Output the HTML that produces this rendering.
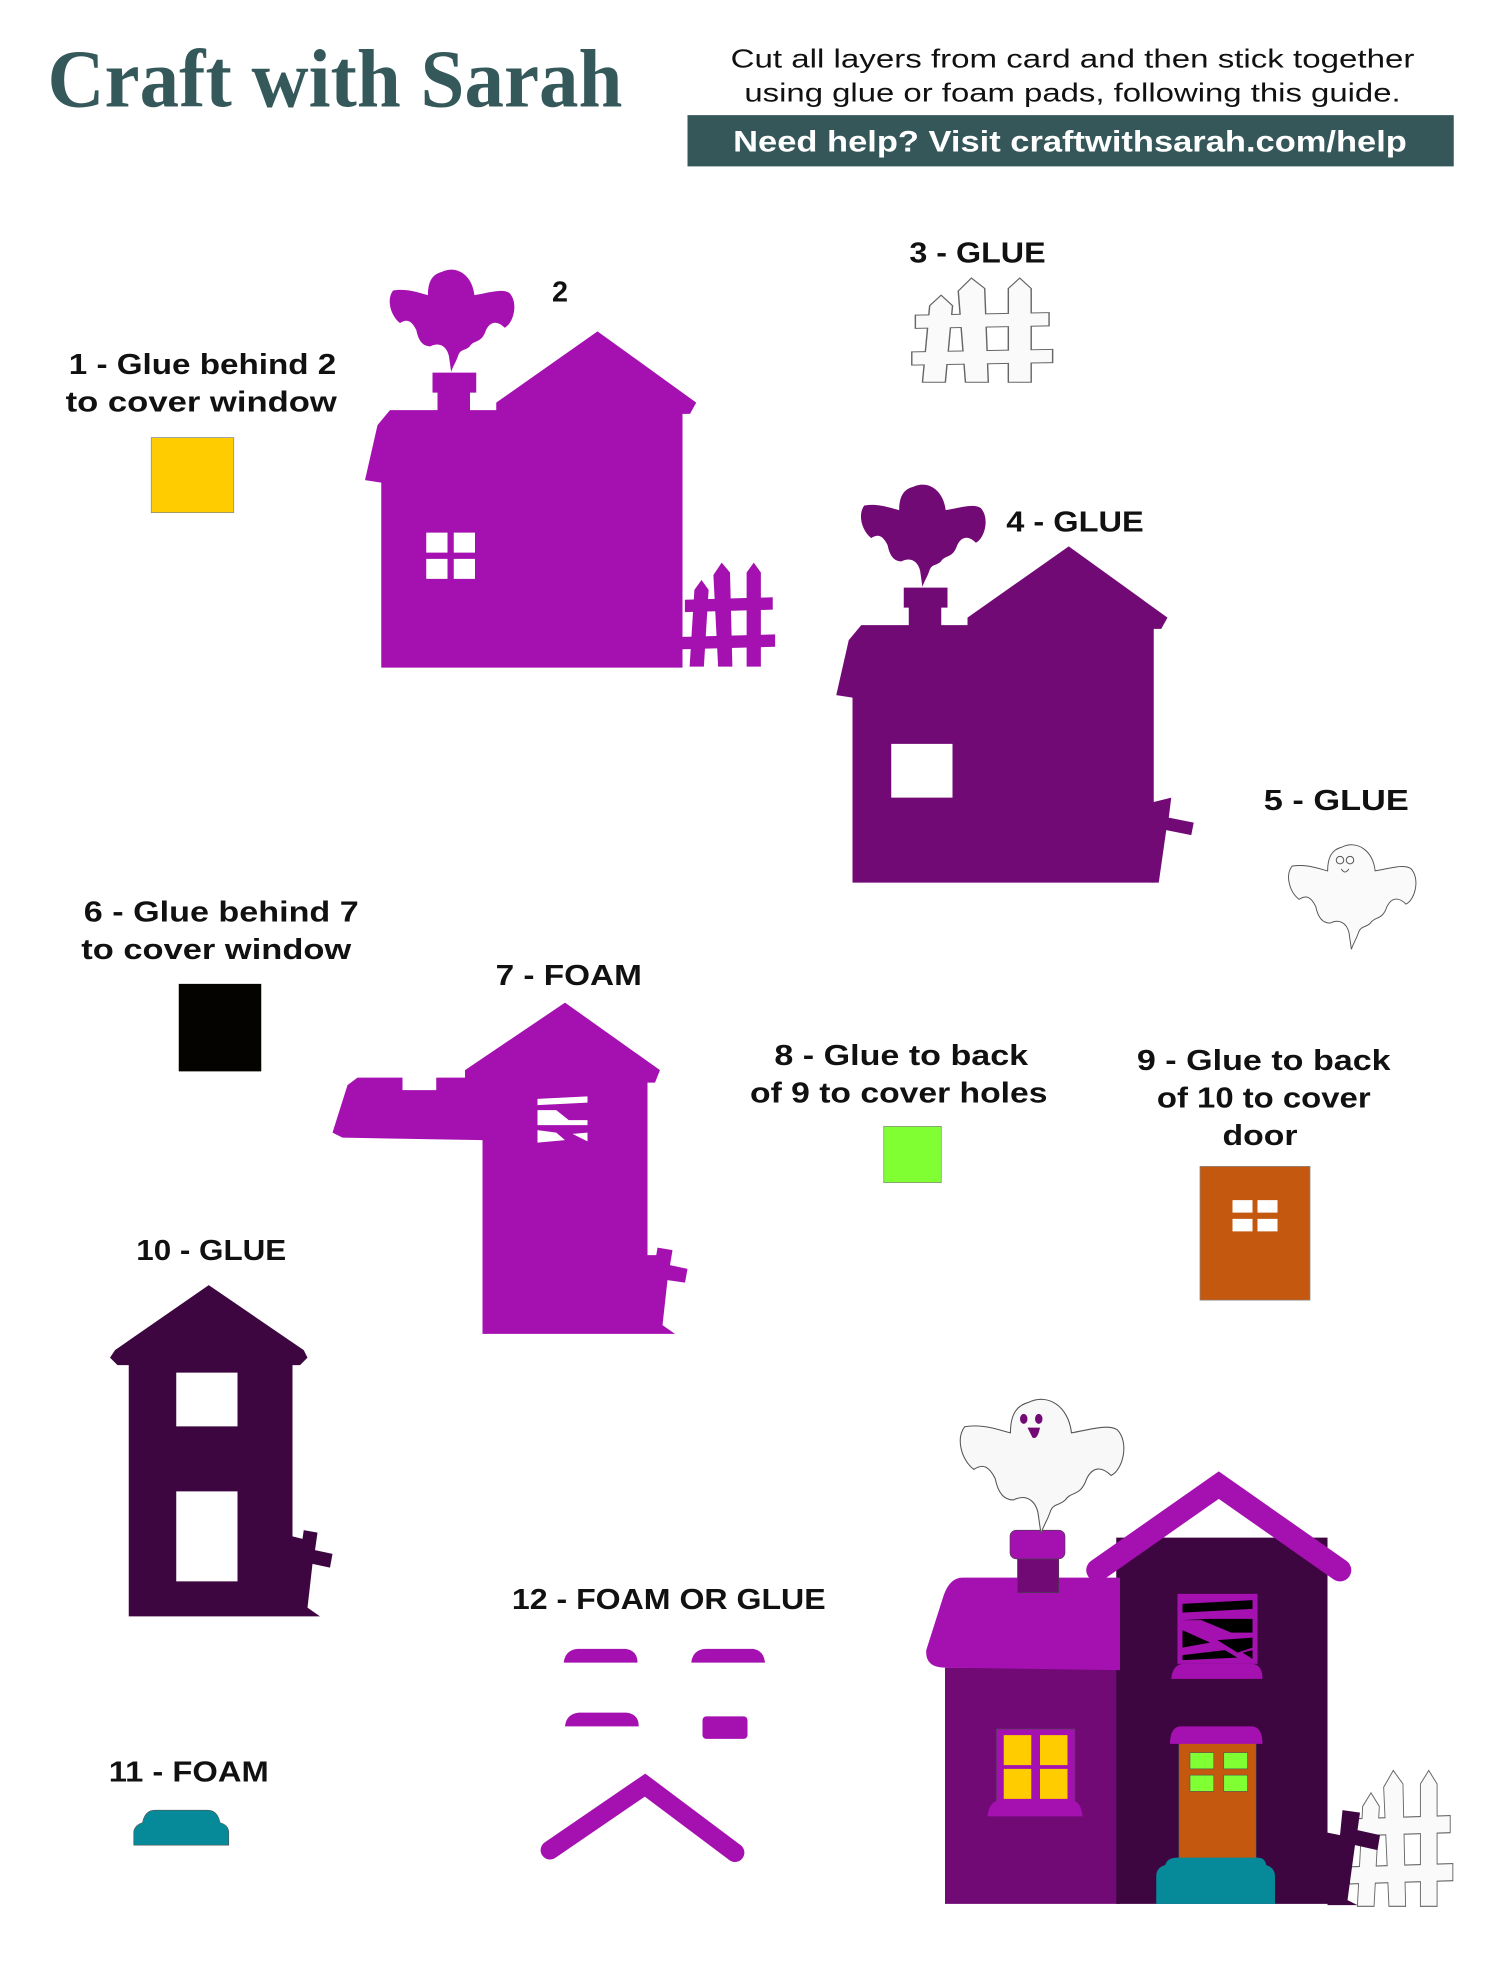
<!DOCTYPE html>
<html><head><meta charset="utf-8"><style>
html,body{margin:0;padding:0;background:#fff;width:1500px;height:1969px;overflow:hidden}
svg{display:block}
text{font-family:"Liberation Sans",sans-serif;font-weight:bold;fill:#111}
</style></head><body>
<svg width="1500" height="1969" viewBox="0 0 1200 1575" xmlns="http://www.w3.org/2000/svg">
<defs>
<path id="ghost" d="M50,8 C62,2 76,10 78,28 C90,26 102,22 108,26 C116,34 112,52 104,56 C98,50 92,50 88,58 C84,70 78,66 74,72 C70,76 66,74 64,80 C62,86 60,88 58,94 L56,80 C54,72 48,68 40,72 C34,72 30,68 28,58 C24,50 20,48 14,52 C6,46 2,32 8,24 C20,22 30,26 38,28 C38,16 42,10 50,8 Z"/>
<g id="fence">
<path d="M6,84 L10,22 L16,14 L22,22 L18,84 Z"/>
<path d="M30,84 L26,10 L33,0 L40,8 L42,84 Z"/>
<path d="M54,84 L54,8 L60,0 L66,8 L66,84 Z"/>
<path d="M2,30 L76,28 L76,38 L2,40 Z"/>
<path d="M0,60 L78,58 L78,68 L0,70 Z"/>
</g>
</defs>

<!-- header -->
<text x="38" y="85" textLength="460" lengthAdjust="spacingAndGlyphs" style="font-family:'Liberation Serif',serif;font-size:66px;font-weight:bold;fill:#35585a">Craft with Sarah</text>
<text x="858" y="54" text-anchor="middle" textLength="547" lengthAdjust="spacingAndGlyphs" style="font-size:21px;font-weight:normal">Cut all layers from card and then stick together</text>
<text x="858" y="81" text-anchor="middle" textLength="525" lengthAdjust="spacingAndGlyphs" style="font-size:21px;font-weight:normal">using glue or foam pads, following this guide.</text>
<rect x="550" y="92" width="613" height="41" fill="#35575a"/>
<text x="856" y="121" text-anchor="middle" textLength="539" lengthAdjust="spacingAndGlyphs" style="font-size:24px;fill:#fff">Need help? Visit craftwithsarah.com/help</text>

<!-- labels -->
<g style="font-size:23px" text-anchor="middle">
<text x="448" y="241">2</text>
<text x="782" y="210" textLength="109" lengthAdjust="spacingAndGlyphs">3 - GLUE</text>
<text x="162" y="299" textLength="214" lengthAdjust="spacingAndGlyphs">1 - Glue behind 2</text>
<text x="161" y="329" textLength="217" lengthAdjust="spacingAndGlyphs">to cover window</text>
<text x="860" y="425" textLength="110" lengthAdjust="spacingAndGlyphs">4 - GLUE</text>
<text x="1069" y="648" textLength="116" lengthAdjust="spacingAndGlyphs">5 -  GLUE</text>
<text x="177" y="737" textLength="220" lengthAdjust="spacingAndGlyphs">6 - Glue behind 7</text>
<text x="173" y="767" textLength="216" lengthAdjust="spacingAndGlyphs">to cover window</text>
<text x="455" y="788" textLength="117" lengthAdjust="spacingAndGlyphs">7 - FOAM</text>
<text x="721" y="852" textLength="203" lengthAdjust="spacingAndGlyphs">8 - Glue to back</text>
<text x="719" y="882" textLength="238" lengthAdjust="spacingAndGlyphs">of 9 to cover holes</text>
<text x="1011" y="856" textLength="203" lengthAdjust="spacingAndGlyphs">9 - Glue to back</text>
<text x="1011" y="886" textLength="171" lengthAdjust="spacingAndGlyphs">of 10 to cover</text>
<text x="1008" y="916" textLength="60" lengthAdjust="spacingAndGlyphs">door</text>
<text x="169" y="1008" textLength="120" lengthAdjust="spacingAndGlyphs">10 - GLUE</text>
<text x="535" y="1287" textLength="251" lengthAdjust="spacingAndGlyphs">12 - FOAM OR GLUE</text>
<text x="151" y="1425" textLength="128" lengthAdjust="spacingAndGlyphs">11 -  FOAM</text>
</g>

<!-- swatches -->
<rect x="121" y="350" width="66" height="60" fill="#ffcc00" stroke="#888" stroke-width="0.6"/>
<rect x="143" y="787" width="66" height="70" fill="#050300"/>
<rect x="707" y="901" width="46" height="45" fill="#80ff33" stroke="#888" stroke-width="0.6"/>
<rect x="960" y="933" width="88" height="107" fill="#c4580f" stroke="#888" stroke-width="0.6"/>
<g fill="#fff"><rect x="986" y="960" width="16" height="10"/><rect x="1006" y="960" width="16" height="10"/><rect x="986" y="975" width="16" height="10"/><rect x="1006" y="975" width="16" height="10"/></g>

<!-- piece 2 -->
<g fill="#a511b0">
<path d="M305,534 L305,386 L292,384 L302,340 L312,328 L350,328 L350,314 L346,314 L346,298 L381,298 L381,314 L376,314 L376,328 L397,328 L397,322 L478,265 L557,322 L552,331 L546,331 L546,534 Z"/>
<use href="#ghost" transform="translate(307,210) scale(0.93)"/>
<use href="#fence" transform="translate(546,450) scale(0.95,0.99)"/>
</g>
<g fill="#fff"><rect x="341" y="426" width="17" height="16"/><rect x="363" y="426" width="17" height="16"/><rect x="341" y="447" width="17" height="16"/><rect x="363" y="447" width="17" height="16"/></g>

<!-- piece 3 -->
<g transform="translate(730,223) scale(1.43,0.98)">
<use href="#fence" fill="#666" stroke="#666" stroke-width="1.6"/>
<use href="#fence" fill="#fafafa"/>
</g>

<!-- piece 4 -->
<g fill="#720a76" transform="translate(377,172)">
<path d="M305,534 L305,386 L292,384 L302,340 L312,328 L350,328 L350,314 L346,314 L346,298 L381,298 L381,314 L376,314 L376,328 L397,328 L397,322 L478,265 L557,322 L552,331 L546,331 L546,534 Z"/>
<use href="#ghost" transform="translate(307,210) scale(0.93)"/>
<path d="M544,470 L560,466 L558,482 L578,486 L576,496 L556,492 L550,534 L544,534 Z"/>
</g>
<rect x="713" y="595" width="49" height="43" fill="#fff"/>

<!-- ghost 5 -->
<use href="#ghost" transform="translate(1026,670) scale(0.95)" fill="#fafafa" stroke="#555" stroke-width="0.8"/>
<g fill="none" stroke="#555" stroke-width="0.8"><circle cx="1072" cy="688" r="3"/><circle cx="1080" cy="688" r="3"/><path d="M1073,695 q3,5 6,0"/></g>

<!-- piece 7 -->
<g fill="#a511b0">
<path d="M386,1067 L386,912 L274,910 L266,906 L278,868 L286,862 L322,862 L322,872 L349,872 L349,862 L372,862 L372,856 L452,802 L528,856 L524,866 L518,866 L518,1004 L525,1004 L526,998 L538,1000 L536,1012 L550,1015 L548,1026 L534,1024 L530,1060 L540,1067 Z"/>
</g>
<g fill="#fff"><path d="M430,879 L470,877 L470,882 L430,884 Z"/><path d="M430,888 L445,888 L455,896 L470,896 L470,900 L430,900 Z"/><path d="M430,904 L445,906 L452,912 L430,914 Z"/><path d="M458,907 L470,906 L470,913 Z"/></g>

<!-- piece 10 -->
<g fill="#3d0640">
<path d="M103,1293 L103,1092 L94,1092 L88,1086 L92,1080 L167,1028 L243,1080 L246,1086 L240,1092 L234,1092 L234,1229 L242,1231 L243,1224 L254,1226 L252,1240 L266,1243 L264,1254 L250,1251 L246,1286 L256,1293 Z"/>
</g>
<rect x="141" y="1098" width="49" height="43" fill="#fff"/>
<rect x="141" y="1193" width="49" height="72" fill="#fff"/>

<!-- piece 11 -->
<path d="M107,1476 L107,1465 Q108,1460 114,1458 Q116,1448 124,1448 L166,1448 Q174,1448 176,1458 Q183,1460 183,1466 L183,1476 Z" fill="#068a9a" stroke="#555" stroke-width="0.5"/>

<!-- piece 12 -->
<g fill="#a511b0">
<path d="M451,1330 Q452,1320 462,1319 L500,1319 Q510,1320 510,1330 Z"/>
<path d="M553,1330 Q554,1320 564,1319 L602,1319 Q611,1320 612,1330 Z"/>
<path d="M452,1381 Q453,1371 463,1370 L501,1370 Q511,1371 511,1381 Z"/>
<rect x="562" y="1373" width="36" height="18" rx="3"/>
</g>
<path d="M440,1480 L516,1428 L588,1482" fill="none" stroke="#a511b0" stroke-width="15" stroke-linecap="round" stroke-linejoin="miter"/>

<!-- assembled house -->
<g>
<rect x="756" y="1334" width="140" height="189" fill="#720a76"/>
<rect x="893" y="1230" width="169" height="293" fill="#3d0640"/>
<path d="M760,1262 L896,1262 L896,1336 L756,1334 Q740,1334 741,1320 L755,1276 Q760,1262 770,1262 Z" fill="#a511b0"/>
<rect x="814" y="1244" width="33" height="30" fill="#720a76" stroke="#444" stroke-width="0.5"/>
<rect x="808" y="1224" width="44" height="23" rx="5" fill="#a511b0" stroke="#444" stroke-width="0.5"/>
<use href="#ghost" transform="translate(762,1112) scale(1.22)" fill="#f8f8f8" stroke="#555" stroke-width="0.7"/>
<g fill="#720a76"><ellipse cx="819" cy="1135" rx="3" ry="4"/><ellipse cx="831" cy="1135" rx="3" ry="4"/><path d="M822,1142 L832,1142 Q830,1152 826,1150 Z"/></g>
<path d="M878,1256 L975,1188 L1072,1256" fill="none" stroke="#a511b0" stroke-width="18" stroke-linecap="round"/>
<rect x="942" y="1275" width="64" height="56" fill="#a511b0"/>
<g fill="#000"><path d="M946,1283 L1002,1280 L1002,1287 L946,1290 Z"/><path d="M946,1296 L961,1296 L985,1306 L1002,1306 L1002,1295 L966,1295 Z"/><path d="M946,1304 L968,1314 L946,1318 Z"/><path d="M974,1312 L1002,1310 L1002,1318 L990,1322 Z"/><path d="M946,1324 L980,1320 L990,1326 L946,1328 Z"/><path d="M994,1322 L1002,1320 L1002,1327 Z"/></g>
<path d="M937,1343 Q938,1332 946,1331 L1002,1331 Q1010,1332 1010,1343 Z" fill="#a511b0"/>
<rect x="797" y="1383" width="63" height="58" fill="#a511b0" stroke="#444" stroke-width="0.5"/>
<g fill="#ffcc00"><rect x="803" y="1388" width="22" height="24"/><rect x="832" y="1388" width="22" height="24"/><rect x="803" y="1415" width="22" height="24"/><rect x="832" y="1415" width="22" height="24"/></g>
<path d="M790,1453 Q791,1441 800,1440 L857,1440 Q865,1441 866,1453 Z" fill="#a511b0"/>
<rect x="943" y="1394" width="62" height="94" fill="#c4580f" stroke="#444" stroke-width="0.5"/>
<g fill="#80ff33" stroke="#555" stroke-width="0.5"><rect x="952" y="1402" width="19" height="13"/><rect x="979" y="1402" width="19" height="13"/><rect x="952" y="1420" width="19" height="13"/><rect x="979" y="1420" width="19" height="13"/></g>
<path d="M936,1395 Q936,1382 944,1381 L1002,1381 Q1010,1382 1010,1395 Z" fill="#a511b0"/>
<path d="M925,1523 L925,1501 Q925,1494 932,1492 L933,1490 Q935,1486 942,1486 L1006,1486 Q1012,1486 1013,1492 Q1020,1494 1020,1501 L1020,1523 Z" fill="#068a9a"/>
<g transform="translate(1080,1417) scale(1.05,1.28)">
<use href="#fence" fill="#666" stroke="#666" stroke-width="1.4"/>
<use href="#fence" fill="#fafafa"/>
</g>
<path d="M1062,1466 L1072,1468 L1074,1448 L1088,1450 L1086,1464 L1104,1468 L1102,1480 L1084,1476 L1078,1520 L1086,1524 L1062,1524 Z" fill="#3d0640"/>
</g>
</svg>
</body></html>
